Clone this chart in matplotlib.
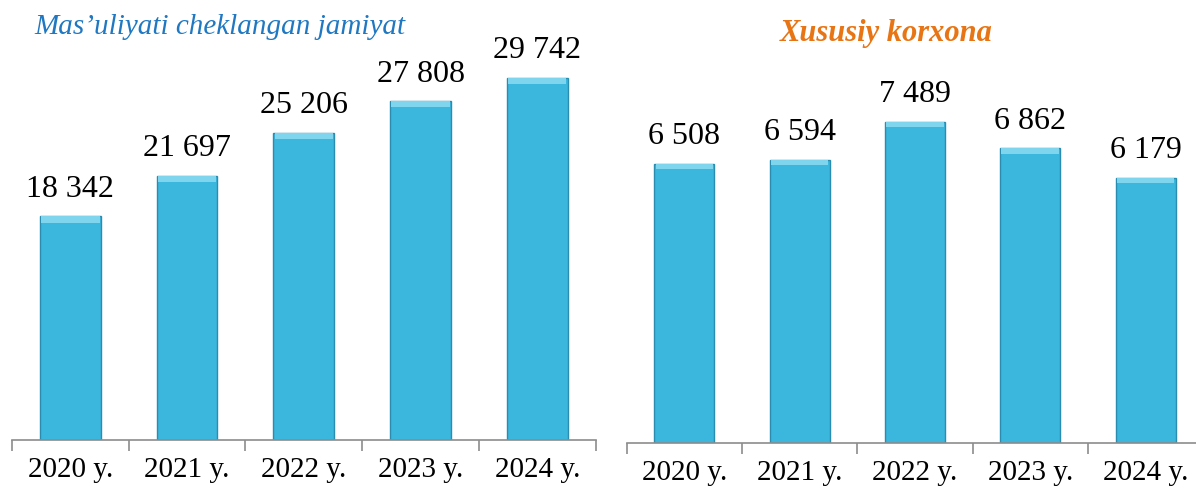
import numpy as np
import matplotlib.pyplot as plt

years = ["2020 y.", "2021 y.", "2022 y.", "2023 y.", "2024 y."]
mchj_values = [18342, 21697, 25206, 27808, 29742]
xk_values = [6508, 6594, 7489, 6862, 6179]

left_title = "Mas\u2019uliyati cheklangan jamiyat"
right_title = "Xususiy korxona"

plt.rcParams['font.family'] = ['Liberation Serif', 'DejaVu Serif']

BAR_COLOR = "#3bb6dc"
EDGE_COLOR = "#2a8db0"
TOP_COLOR = "#7fd4ee"


def fmt(v):
    return f"{v:,}".replace(",", " ")


def draw_panel(ax, values, ymax, bevel):
    x = np.arange(len(values))
    ax.bar(x, values, width=0.52, color=BAR_COLOR, edgecolor=EDGE_COLOR, linewidth=1.0, zorder=2)
    # light bevel on top of each bar
    ax.bar(x, [bevel] * len(values), bottom=np.array(values) - bevel, width=0.50,
           color=TOP_COLOR, linewidth=0, zorder=3)
    for xi, v in zip(x, values):
        ax.annotate(fmt(v), (xi, v), xytext=(0, 9), textcoords="offset points",
                    ha="center", va="bottom", fontsize=23, color="black")
    ax.set_xlim(-0.5, len(values) - 0.5)
    ax.set_ylim(0, ymax)
    for s in ["top", "right", "left"]:
        ax.spines[s].set_visible(False)
    ax.spines["bottom"].set_color("#8c8c8c")
    ax.spines["bottom"].set_linewidth(1.2)
    ax.set_yticks([])
    ax.set_xticks(x)
    ax.set_xticklabels(years, fontsize=21)
    ax.tick_params(axis="x", which="major", length=0, pad=12)
    ax.set_xticks(np.arange(-0.5, len(values)), minor=True)
    ax.tick_params(axis="x", which="minor", length=8, width=1.2, color="#8c8c8c", direction="out")


fig = plt.figure(figsize=(11.96, 4.91), dpi=100)

ax1 = fig.add_axes([0.010, 0.104, 0.488, 0.794])
draw_panel(ax1, mchj_values, 32000, 500)

ax2 = fig.add_axes([0.524, 0.098, 0.482, 0.699])
draw_panel(ax2, xk_values, 8000, 125)

fig.text(0.184, 0.946, left_title, fontsize=21, style="italic", color="#1f78c1",
         ha="center", va="center")
fig.text(0.741, 0.932, right_title, fontsize=22, style="italic", weight="bold",
         color="#e87515", ha="center", va="center")

fig.savefig("out.png", dpi=100)
